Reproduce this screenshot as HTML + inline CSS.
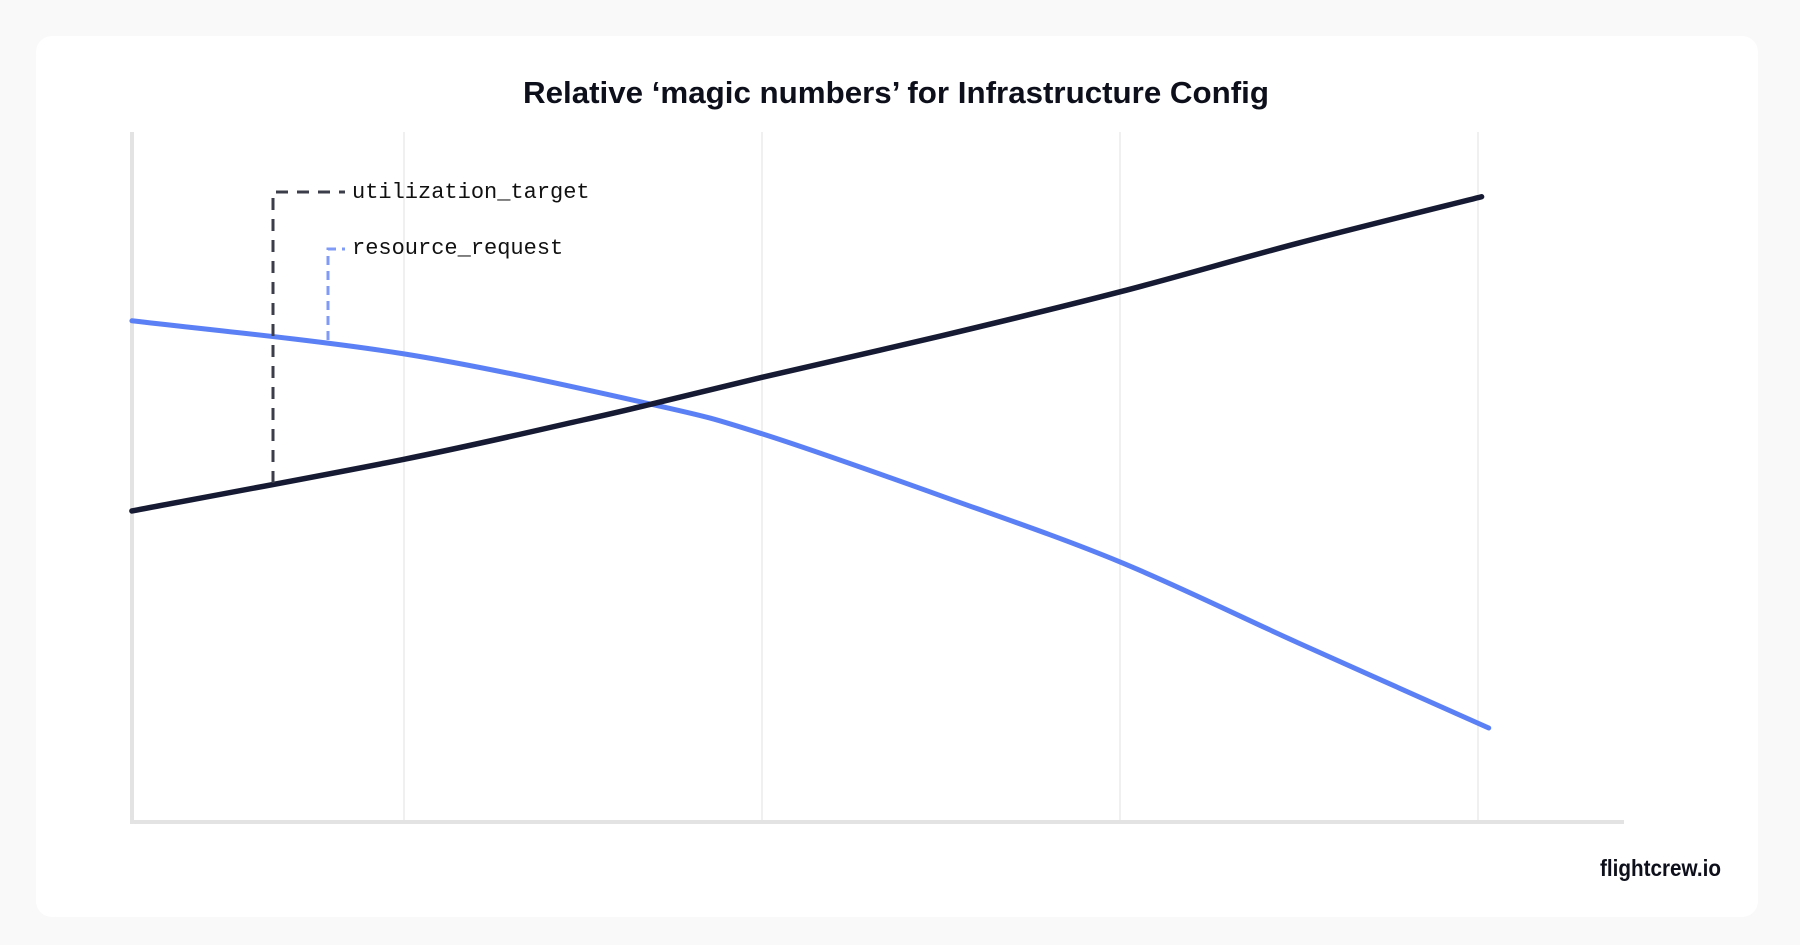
<!DOCTYPE html>
<html><head><meta charset="utf-8">
<style>
html,body{margin:0;padding:0;background:#f9f9f9;}
body{width:1800px;height:945px;position:relative;overflow:hidden;font-family:"Liberation Sans",sans-serif;}
#card{position:absolute;left:36px;top:36px;width:1722px;height:881px;background:#fff;border-radius:16px;}
svg{position:absolute;left:0;top:0;}
</style></head>
<body>
<div id="card"></div>
<svg id="chart" width="1800" height="945">
  <text x="896" y="103" text-anchor="middle" font-size="31" font-weight="bold" fill="#0d0f1a" textLength="746" lengthAdjust="spacingAndGlyphs">Relative ‘magic numbers’ for Infrastructure Config</text>
  <g id="grid"></g>
  <line x1="132" y1="132" x2="132" y2="823" stroke="#e3e3e3" stroke-width="4"/>
  <line x1="130" y1="822" x2="1624" y2="822" stroke="#e3e3e3" stroke-width="4"/>
  <g id="series"></g>
  <path d="M273 483 V192 H345" fill="none" stroke="#3b3e4a" stroke-width="3" stroke-dasharray="12,9"/>
  <path d="M328 340 V249 H345" fill="none" stroke="#7f9bf7" stroke-width="3" stroke-dasharray="9,6"/>
  <text x="352" y="198" font-family="Liberation Mono, monospace" font-size="22" fill="#111">utilization_target</text>
  <text x="352" y="254" font-family="Liberation Mono, monospace" font-size="22" fill="#111">resource_request</text>
  <text x="1721" y="876" text-anchor="end" font-size="23" font-weight="bold" fill="#0d0f1a" textLength="121" lengthAdjust="spacingAndGlyphs">flightcrew.io</text>
</svg>
<script>
const gridTicks = [1, 2, 3, 4];
const utilX = [0.24, 1, 1.5, 1.69, 2, 2.5, 3, 3.5, 4.01];
const utilY = [45.0, 52.5, 58.2, 60.5, 64.4, 70.4, 76.8, 83.9, 90.6];
const reqX = [0.24, 1, 1.69, 2, 2.5, 3, 3.5, 4.03];
const reqY = [72.6, 67.8, 60.5, 56.2, 47.2, 37.6, 25.8, 13.5];

const NS = 'http://www.w3.org/2000/svg';
function sx(v){ return 46 + 358 * v; }
function sy(v){ return 821 - 6.89 * v; }

const grid = document.getElementById('grid');
gridTicks.forEach(function(t){
  const l = document.createElementNS(NS, 'line');
  l.setAttribute('x1', sx(t)); l.setAttribute('x2', sx(t));
  l.setAttribute('y1', 132); l.setAttribute('y2', 820);
  l.setAttribute('stroke', '#f0f0f0'); l.setAttribute('stroke-width', 2);
  
  
  grid.appendChild(l);
});

function smoothPath(xs, ys){
  const p = xs.map(function(x, i){ return [sx(x), sy(ys[i])]; });
  let d = 'M' + p[0][0] + ' ' + p[0][1];
  for (let i = 0; i < p.length - 1; i++) {
    const p0 = p[i - 1] || p[i], p1 = p[i], p2 = p[i + 1], p3 = p[i + 2] || p2;
    const c1x = p1[0] + (p2[0] - p0[0]) / 6, c1y = p1[1] + (p2[1] - p0[1]) / 6;
    const c2x = p2[0] - (p3[0] - p1[0]) / 6, c2y = p2[1] - (p3[1] - p1[1]) / 6;
    d += ' C' + c1x + ' ' + c1y + ' ' + c2x + ' ' + c2y + ' ' + p2[0] + ' ' + p2[1];
  }
  return d;
}

const series = document.getElementById('series');
const blue = document.createElementNS(NS, 'path');
blue.setAttribute('d', smoothPath(reqX, reqY));
blue.setAttribute('fill', 'none'); blue.setAttribute('stroke', '#5b7ff5');
blue.setAttribute('stroke-width', 5); blue.setAttribute('stroke-linecap', 'round');


series.appendChild(blue);

const dark = document.createElementNS(NS, 'path');
dark.setAttribute('d', smoothPath(utilX, utilY));
dark.setAttribute('fill', 'none'); dark.setAttribute('stroke', '#161b33');
dark.setAttribute('stroke-width', 5.5); dark.setAttribute('stroke-linecap', 'round');


series.appendChild(dark);
</script>
</body></html>
